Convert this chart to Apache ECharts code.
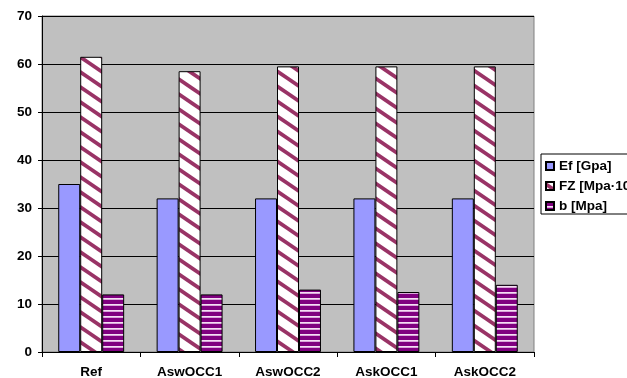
<!DOCTYPE html>
<html><head><meta charset="utf-8">
<script src="https://cdn.jsdelivr.net/npm/echarts@6/dist/echarts.min.js"></script>
<style>html,body{margin:0;padding:0;background:#fff}#c{width:627px;height:378px}</style>
</head><body><div id="c"></div>
<script>
var categories = ['Ref', 'AswOCC1', 'AswOCC2', 'AskOCC1', 'AskOCC2'];
var seriesNames = ['Ef [Gpa]', 'FZ [Mpa·10³]', 'b [Mpa]'];
var efValues = [35, 32, 32, 32, 32];
var fzValues = [61.5, 58.5, 59.5, 59.5, 59.5];
var bValues = [12, 12, 13, 12.5, 14];
var yTicks = [0, 10, 20, 30, 40, 50, 60, 70];

function diagPattern() {
  var w = 22, h = 15, c = document.createElement('canvas');
  c.width = w; c.height = h;
  var g = c.getContext('2d');
  g.fillStyle = '#ffffff'; g.fillRect(0, 0, w, h);
  g.fillStyle = '#993366';
  var t = 4.6;
  for (var k = -1; k <= 1; k++) {
    var o = k * h;
    g.beginPath();
    g.moveTo(-1, o - (h / w));
    g.lineTo(w + 1, o + h + (h / w));
    g.lineTo(w + 1, o + h + (h / w) + t);
    g.lineTo(-1, o - (h / w) + t);
    g.closePath();
    g.fill();
  }
  return c;
}
function horizPattern() {
  var c = document.createElement('canvas');
  c.width = 4; c.height = 6;
  var g = c.getContext('2d');
  g.fillStyle = '#800080'; g.fillRect(0, 0, 4, 6);
  g.fillStyle = '#f4def4'; g.fillRect(0, 4, 4, 1);
  g.fillStyle = '#d9a6d9'; g.fillRect(0, 5, 4, 1);
  return c;
}
var chart = echarts.init(document.getElementById('c'), null, {renderer: 'canvas'});
var font = {fontFamily: 'Liberation Sans, Arial, sans-serif', fontWeight: 'bold', fontSize: 13.5, color: '#000'};
chart.setOption({
  animation: false,
  backgroundColor: '#ffffff',
  grid: {left: 42, right: 93, top: 16, bottom: 26, containLabel: false, outerBoundsMode: 'none',
         show: true, backgroundColor: '#c0c0c0', borderColor: '#808080', borderWidth: 1},
  legend: {
    orient: 'vertical', left: 541, top: 154,
    itemWidth: 8, itemHeight: 8, itemGap: 6,
    padding: [5, 60, 1, 4],
    backgroundColor: '#ffffff', borderColor: '#000', borderWidth: 1, borderRadius: 0,
    textStyle: Object.assign({}, font, {lineHeight: 14}),
    data: seriesNames.map(function (n) { return {name: n, icon: 'rect'}; })
  },
  xAxis: {
    type: 'category', data: categories,
    axisLine: {lineStyle: {color: '#000', width: 1}},
    axisTick: {show: true, length: 5, lineStyle: {color: '#000'}},
    axisLabel: Object.assign({}, font, {margin: 13}),
    splitLine: {show: false}
  },
  yAxis: {
    type: 'value', min: yTicks[0], max: yTicks[yTicks.length - 1], interval: 10,
    axisLine: {show: true, lineStyle: {color: '#000', width: 1}},
    axisTick: {show: true, length: 4, lineStyle: {color: '#000'}},
    axisLabel: Object.assign({}, font, {margin: 10}),
    splitLine: {show: true, lineStyle: {color: '#000', width: 1}}
  },
  series: [
    {name: seriesNames[0], type: 'bar', data: efValues, barGap: '0%', barCategoryGap: '33%',
     itemStyle: {color: '#9999ff', borderColor: '#000', borderWidth: 1}},
    {name: seriesNames[1], type: 'bar', data: fzValues, barGap: '0%', barCategoryGap: '33%',
     itemStyle: {color: {image: diagPattern(), repeat: 'repeat'}, borderColor: '#000', borderWidth: 1}},
    {name: seriesNames[2], type: 'bar', data: bValues, barGap: '0%', barCategoryGap: '33%',
     itemStyle: {color: {image: horizPattern(), repeat: 'repeat'}, borderColor: '#000', borderWidth: 1}}
  ]
});
</script></body></html>
